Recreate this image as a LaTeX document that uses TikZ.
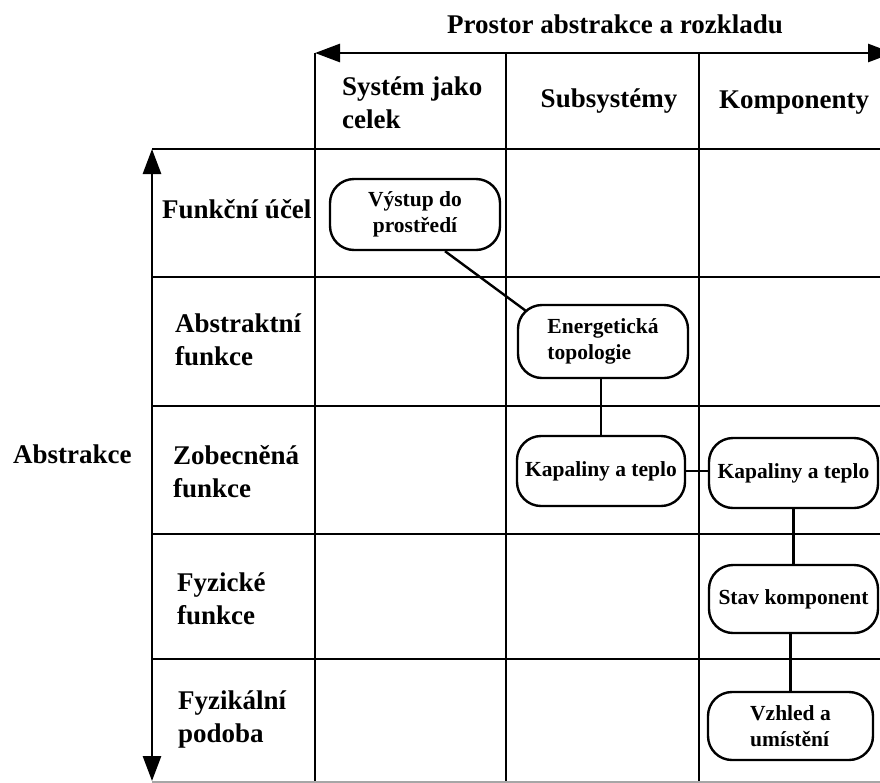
\documentclass[tikz,border=0pt]{standalone}
\usepackage{fontspec}
\setmainfont{Liberation Serif}
\usetikzlibrary{arrows.meta,backgrounds,calc}
\begin{document}
\begin{tikzpicture}[x=1pt,y=-1pt,
  gridline/.style={line width=2.8pt},
  axisarrow/.style={line width=2.8pt,
    {Triangle[length=25pt,width=18pt]}-{Triangle[length=25pt,width=18pt]}},
  hdr/.style={font=\fontsize{27}{32.5}\selectfont\bfseries,
    inner sep=0pt,align=left,anchor=base west},
  stage/.style={draw,line width=2.4pt,rounded corners=24pt,fill=white,
    inner sep=0pt,align=center,font=\fontsize{21.5}{26}\selectfont\bfseries},
  link/.style={line width=2.4pt}]
\useasboundingbox (0,0) rectangle (880,782);

% axes of the matrix
\coordinate (hl) at (315,53);
\coordinate (hr) at (893,53);
\coordinate (vt) at (152,149);
\coordinate (vb) at (152,781);
\draw[axisarrow] (hl) -- (hr);
\draw[axisarrow] (vt) -- (vb);

% grid
\foreach \x in {315,506,699} \draw[gridline] (\x,53) -- (\x,782);
\foreach \y in {149,277,406,534,659} \draw[gridline] (152,\y) -- (880,\y);
\draw[gridline,gray!70] (152,782) -- (880,782);

% headings (multi-line nodes are placed by the baseline of their last line)
\node[hdr,anchor=base] (title) at (615,33) {Prostor abstrakce a rozkladu};
\node[hdr] (c1) at (342,128) {Systém jako\\celek};
\node[hdr,anchor=base] (c2) at (609,107) {Subsystémy};
\node[hdr,anchor=base] (c3) at (794,108) {Komponenty};

\node[hdr] (ax) at (13,463) {Abstrakce};
\node[hdr] (r1) at (162,218) {Funkční účel};
\node[hdr] (r2) at (175,365) {Abstraktní\\funkce};
\node[hdr] (r3) at (173,497) {Zobecněná\\funkce};
\node[hdr] (r4) at (177,624) {Fyzické\\funkce};
\node[hdr] (r5) at (178,742) {Fyzikální\\podoba};

% stages
\node[stage,minimum width=170pt,minimum height=71pt] (b1) at (415,214.5) {Výstup do\\prostředí};
\node[stage,minimum width=170pt,minimum height=73pt,align=left] (b2) at (603,341.5) {Energetická\\topologie};
\node[stage,minimum width=168pt,minimum height=70pt] (b3) at (601,471) {Kapaliny a teplo};
\node[stage,minimum width=169pt,minimum height=70pt] (b4) at (793.5,473) {Kapaliny a teplo};
\node[stage,minimum width=169pt,minimum height=68pt] (b5) at (793.5,599) {Stav komponent};
\node[stage,minimum width=165pt,minimum height=68pt,align=left] (b6) at (790.5,726) {Vzhled a\\umístění};

% links between stages
\begin{scope}[on background layer]
\draw[link] ([xshift=30pt]b1.south) -- ($(b2.north west)+(9,7)$);
\draw[link] (b3.north) -- (b3.north |- b2.south);
\draw[link] (b3.east) -- (b3.east -| b4.west);
\draw[link] (b4.south) -- (b5.north);
\draw[link] (b6.north) -- (b6.north |- b5.south);
\end{scope}
\end{tikzpicture}
\end{document}
